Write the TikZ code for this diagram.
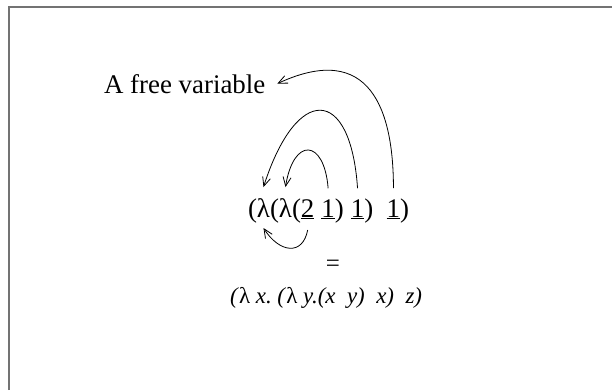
\documentclass[tikz,border=0pt]{standalone}
\usepackage{fontspec}
\setmainfont{Liberation Serif}
\usetikzlibrary{arrows.meta, positioning}
\newcommand{\exprfont}{\fontsize{27}{32}\selectfont}
\newcommand{\smallexprfont}{\fontsize{23}{28}\selectfont}
\tikzstyle{tok}   = [inner sep=0pt, outer xsep=0pt, outer ysep=11bp, font=\exprfont]
\tikzstyle{bind}  = [-{Straight Barb[length=9bp,width=8bp]}, line width=0.8bp]
\tikzstyle{frame} = [line width=1.2bp, color=black!55]

\begin{document}
\begin{tikzpicture}[x=1bp, y=1bp]

  \useasboundingbox (0,0) rectangle (612,390);
  \draw[frame] (9,0) |- (612,383);

  \node[tok, anchor=base west, outer xsep=12bp] (free) at (92,297) {A free variable};

  %% de Bruijn term
  \node[tok, anchor=base west] (p1) at (248,173) {(};
  \node[tok, base right=0pt of p1] (l1) {λ};
  \node[tok, base right=0pt of l1] (p2) {(};
  \node[tok, base right=0pt of p2] (l2) {λ};
  \node[tok, base right=0pt of l2] (p3) {(};
  \node[tok, base right=0pt of p3] (i2) {\underline{2}};
  \node[tok, base right=7bp of i2] (i1a) {\underline{1}};
  \node[tok, base right=0pt of i1a] (q1) {)};
  \node[tok, base right=7bp of q1] (i1b) {\underline{1}};
  \node[tok, base right=0pt of i1b] (q2) {)};
  \node[tok, base right=13.5bp of q2] (i1c) {\underline{1}};
  \node[tok, base right=0pt of i1c] (q3) {)};

  \node[font=\fontsize{25}{30}\selectfont] (eq) at (333,124) {=};
  \node[anchor=base west, inner sep=0pt, font=\smallexprfont\itshape] (named) at (230,87)
        {(\textup{λ} x.\ (\textup{λ} y.(x\ \ y)\ \ x)\ \ z)};

  %% Binding arcs
  \draw[bind] (i1a.north) .. controls +(-4,50) and +(8,50) .. (l2.north);
  \draw[bind] (i1b.north) .. controls +(-7,103) and +(33,103) .. (l1.north);
  \draw[bind] (i1c.north) .. controls +(0,78) and +(93,43) .. (free.east);
  \draw[bind] (i2.south) .. controls +(-5,-26) and +(16,-25) .. (l1.south);

\end{tikzpicture}
\end{document}
